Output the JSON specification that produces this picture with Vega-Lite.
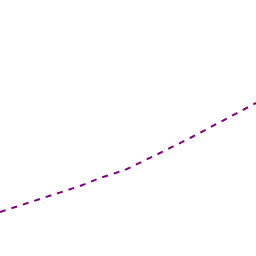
{
  "$schema": "https://vega.github.io/schema/vega-lite/v6.json",
  "width": 256,
  "height": 256,
  "autosize": {"type": "fit", "contains": "padding"},
  "padding": 0,
  "background": "white",
  "config": {"view": {"stroke": null}},
  "data": {"values": [
    {"x": 0, "y": 44},
    {"x": 80, "y": 70},
    {"x": 100, "y": 78},
    {"x": 125, "y": 86},
    {"x": 160, "y": 103},
    {"x": 192, "y": 119},
    {"x": 256, "y": 153}
  ]},
  "mark": {"type": "line", "color": "#800080", "strokeWidth": 2, "strokeDash": [6, 6], "clip": true},
  "encoding": {
    "x": {"field": "x", "type": "quantitative", "scale": {"domain": [0, 256], "nice": false, "zero": false}, "axis": null},
    "y": {"field": "y", "type": "quantitative", "scale": {"domain": [0, 256], "nice": false, "zero": false}, "axis": null}
  }
}
